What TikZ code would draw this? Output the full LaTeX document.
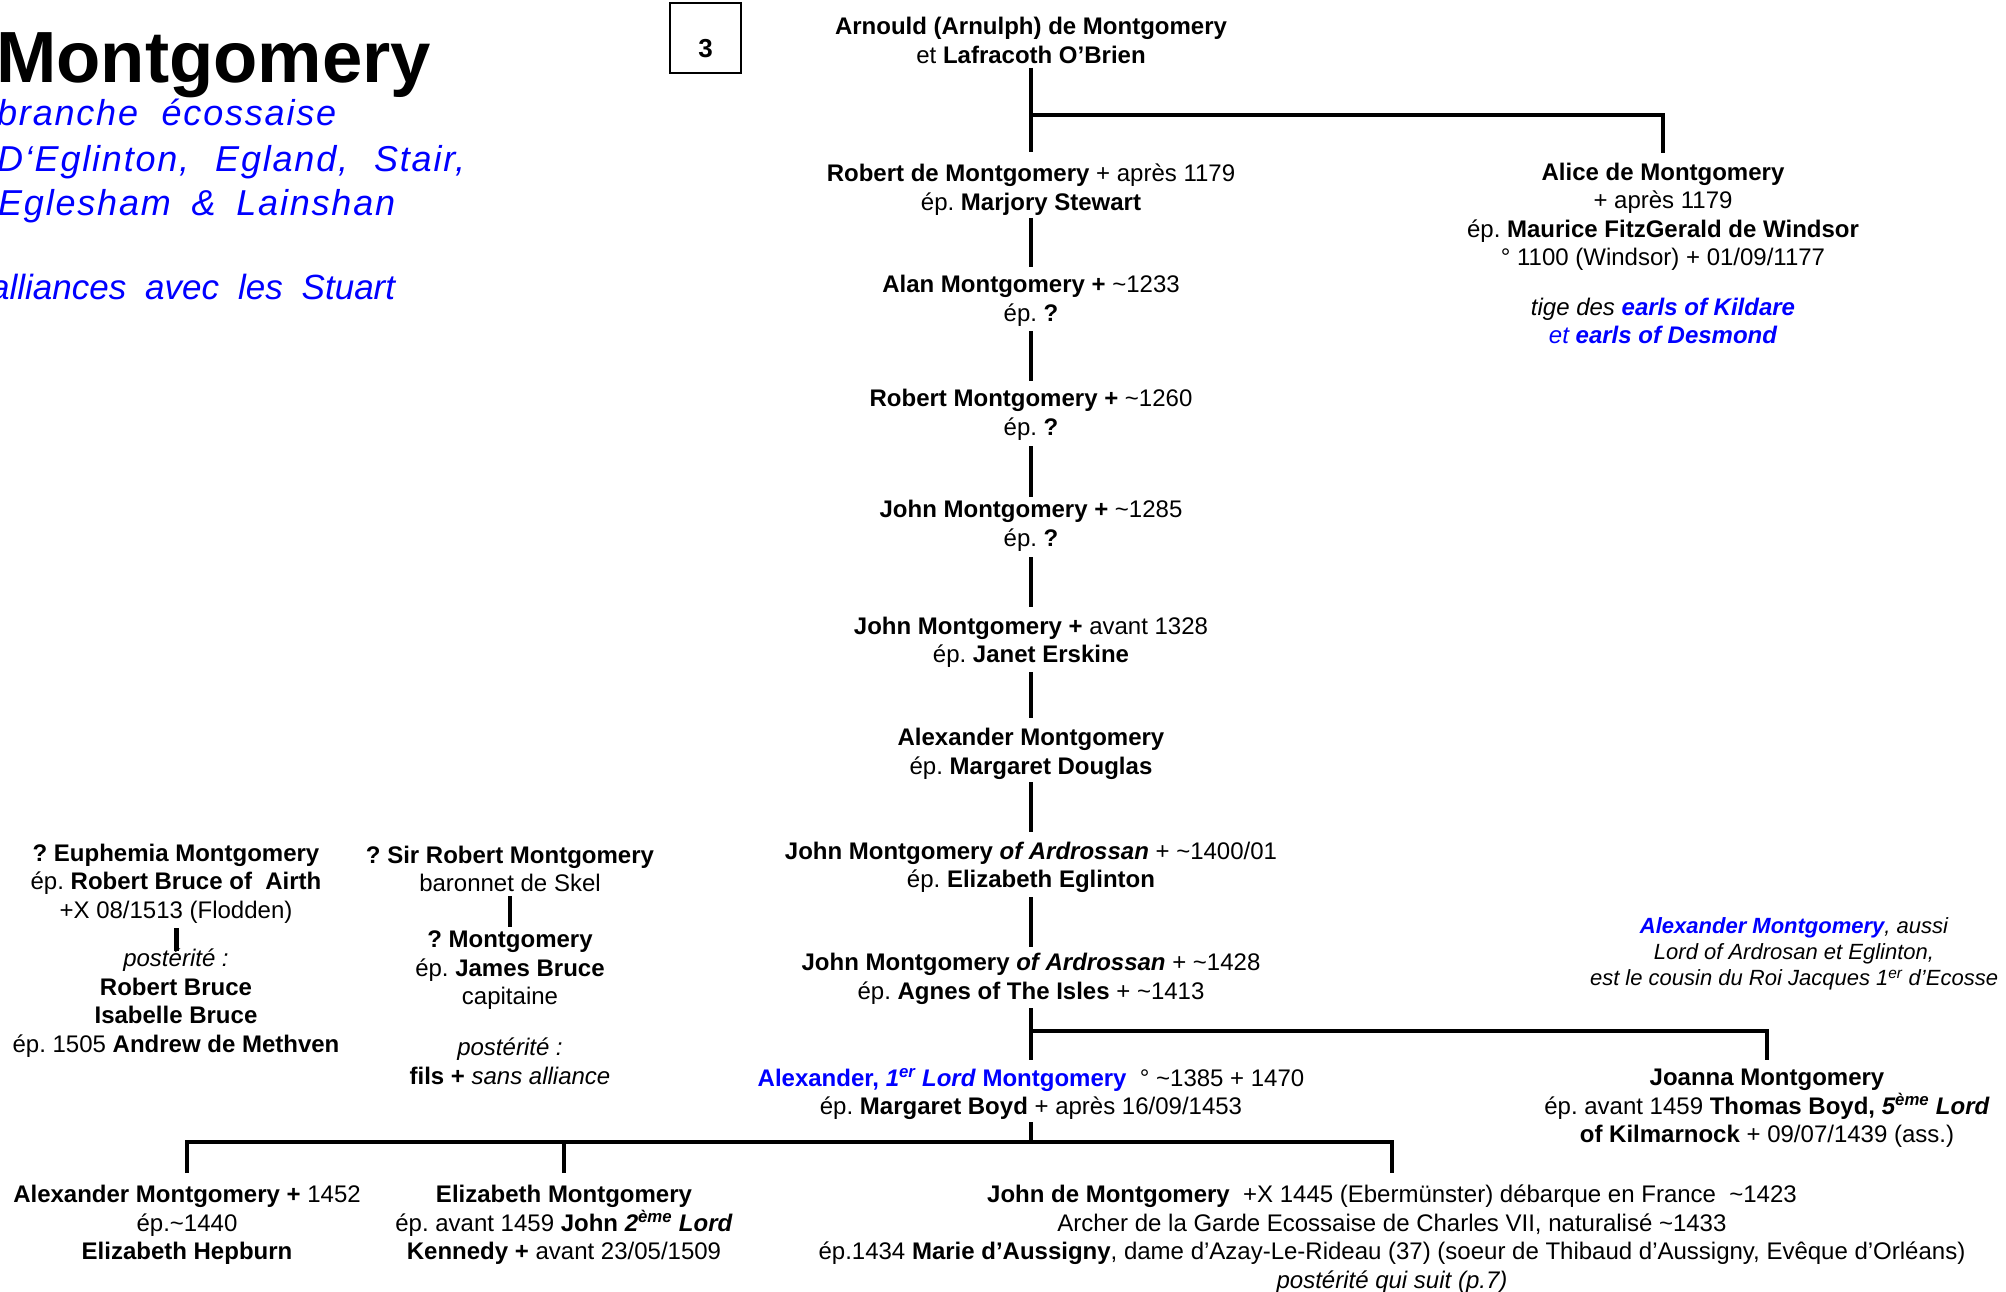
\documentclass[tikz,border=0pt]{standalone}
\usepackage{fontspec}
\setmainfont{Liberation Sans}
\newfontfamily\spacedfont[LetterSpace=5]{Liberation Sans}
\usetikzlibrary{calc}
\definecolor{tblue}{RGB}{0,0,255}
\newcommand\tld{\textasciitilde}
\frenchspacing
\begin{document}
\frenchspacing
\begin{tikzpicture}[x=1pt,y=-1pt,
  person/.style={align=center, inner sep=0pt, font=\fontsize{24}{28.5}\selectfont},
  remark/.style={align=center, inner sep=0pt, font=\fontsize{22}{26}\selectfont\itshape},
  subt/.style={anchor=base west, inner sep=0pt, text=tblue, font=\spacedfont\fontsize{36}{45}\selectfont\itshape},
  conn/.style={line width=3.2pt},
  stub/.style={line width=4.5pt}]
\useasboundingbox (0,0) rectangle (2006,1292);

% title block
\node[anchor=base west, inner sep=0pt, font=\fontsize{72.5}{72}\selectfont\bfseries] (title) at (-4,83) {Montgomery};
\node[subt] (sub1) at (-3,126) {\makebox[339pt][s]{branche écossaise}};
\node[subt] (sub2) at (-3,172) {\makebox[468pt][s]{D‘Eglinton, Egland, Stair,}};
\node[subt] (sub3) at (-2,216) {\makebox[397pt][s]{Eglesham \& Lainshan}};
\node[subt, font=\fontsize{35}{45}\selectfont\itshape] (sub4) at (-10,299) {\makebox[405pt][s]{alliances avec les Stuart}};

% page box
\node[draw, line width=1.3pt, minimum width=71pt, minimum height=70pt, inner sep=0pt,
      font=\fontsize{26}{28}\selectfont\bfseries] (page) at (705.5,38) {\raisebox{-20pt}[0pt][0pt]{3}};

% main line
\node[person] (arnould) at (1031,40.5) {\textbf{Arnould (Arnulph) de Montgomery}\\et \textbf{Lafracoth O’Brien}};
\node[person] (robert) at (1031,189.5) {\textbf{Robert de Montgomery} + après 1179\\ép. \textbf{Marjory Stewart}};
\node[person] (alice) at (1663,217) {\textbf{Alice de Montgomery}\\+ après 1179\\ép. \textbf{Maurice FitzGerald de Windsor}\\° 1100 (Windsor) + 01/09/1177};
\node[person, font=\fontsize{24}{28.5}\selectfont\itshape] (alicenote) at (1663,321) {tige des \textcolor{tblue}{\textbf{earls of Kildare}}\\\textcolor{tblue}{et \textbf{earls of Desmond}}};
\node[person] (alan) at (1031,301) {\textbf{Alan Montgomery +} \tld1233\\ép. \textbf{?}};
\node[person] (robert2) at (1031,415) {\textbf{Robert Montgomery +} \tld1260\\ép. \textbf{?}};
\node[person] (john1) at (1031,526) {\textbf{John Montgomery +} \tld1285\\ép. \textbf{?}};
\node[person] (john2) at (1031,642.5) {\textbf{John Montgomery +} avant 1328\\ép. \textbf{Janet Erskine}};
\node[person] (alex) at (1031,754) {\textbf{Alexander Montgomery}\\ép. \textbf{Margaret Douglas}};
\node[person] (johnA1) at (1031,867.5) {\textbf{John Montgomery \textit{of Ardrossan}} + \tld1400/01\\ép. \textbf{Elizabeth Eglinton}};
\node[person] (johnA2) at (1031,979) {\textbf{John Montgomery \textit{of Ardrossan}} + \tld1428\\ép. \textbf{Agnes of The Isles} + \tld1413};
\node[person] (alex1) at (1031,1094) {\textcolor{tblue}{\textbf{Alexander, \textit{1\textsuperscript{er} Lord} Montgomery}}\ \ ° \tld1385 + 1470\\ép. \textbf{Margaret Boyd} + après 16/09/1453};
\node[person] (joanna) at (1767,1108.5) {\textbf{Joanna Montgomery}\\ép. avant 1459 \textbf{Thomas Boyd, \textit{5\textsuperscript{ème} Lord}}\\\textbf{of Kilmarnock} + 09/07/1439 (ass.)};
\node[remark] (note) at (1794,954) {\textcolor{tblue}{\textbf{Alexander Montgomery}}, aussi\\Lord of Ardrosan et Eglinton,\\est le cousin du Roi Jacques 1\textsuperscript{er} d’Ecosse};

% left collateral lines
\node[person] (euph) at (176,883.3) {\textbf{? Euphemia Montgomery}\\ép. \textbf{Robert Bruce of\ \ Airth}\\+X 08/1513 (Flodden)};
\node[person] (euphpost) at (176,1003) {\textit{postérité :}\\\textbf{Robert Bruce}\\\textbf{Isabelle Bruce}\\ép. 1505 \textbf{Andrew de Methven}};
\node[person] (sirrob) at (510,869) {\textbf{? Sir Robert Montgomery}\\baronnet de Skel};
\node[person] (montq) at (510,970.5) {\textbf{? Montgomery}\\ép. \textbf{James Bruce}\\capitaine};
\node[person] (sirpost) at (510,1061.5) {\textit{postérité :}\\\textbf{fils +} \textit{sans alliance}};

% children of Alexander 1er Lord
\node[person] (alexB) at (187,1225) {\textbf{Alexander Montgomery +} 1452\\ép.\tld1440\\\textbf{Elizabeth Hepburn}};
\node[person] (elizB) at (564,1225) {\textbf{Elizabeth Montgomery}\\ép. avant 1459 \textbf{John \textit{2\textsuperscript{ème} Lord}}\\\textbf{Kennedy +} avant 23/05/1509};
\node[person] (johnB) at (1392,1239) {\textbf{John de Montgomery}\ \ +X 1445 (Ebermünster) débarque en France\ \ \tld1423\\Archer de la Garde Ecossaise de Charles VII, naturalisé \tld1433\\ép.1434 \textbf{Marie d’Aussigny}, dame d’Azay-Le-Rideau (37) (soeur de Thibaud d’Aussigny, Evêque d’Orléans)\\\textit{postérité qui suit (p.7)}};

% connectors
\draw[conn] (arnould |- 0,68) -- (robert |- 0,152);
\draw[conn] (arnould |- 0,115) -| (alice |- 0,153);
\draw[conn] (robert |- 0,218) -- (alan |- 0,267);
\draw[conn] (alan |- 0,331) -- (robert2 |- 0,381);
\draw[conn] (robert2 |- 0,446) -- (john1 |- 0,497);
\draw[conn] (john1 |- 0,557) -- (john2 |- 0,607);
\draw[conn] (john2 |- 0,672) -- (alex |- 0,718);
\draw[conn] (alex |- 0,782) -- (johnA1 |- 0,832);
\draw[conn] (johnA1 |- 0,897) -- (johnA2 |- 0,947);
\draw[conn] (johnA2 |- 0,1008) -- (alex1 |- 0,1060);
\draw[conn] (johnA2 |- 0,1031) -| (joanna |- 0,1060);
\draw[conn] (alex1 |- 0,1122) -- (alex1 |- 0,1142);
\draw[conn] (alexB |- 0,1173) |- (johnB |- 0,1142) -- (johnB |- 0,1173);
\draw[conn] (elizB |- 0,1142) -- (elizB |- 0,1173);
\draw[stub, line width=5pt] (euph |- 0,928) -- (euphpost |- 0,951);
\draw[stub, line width=4pt] (sirrob |- 0,896) -- (montq |- 0,927);
\end{tikzpicture}
\end{document}
